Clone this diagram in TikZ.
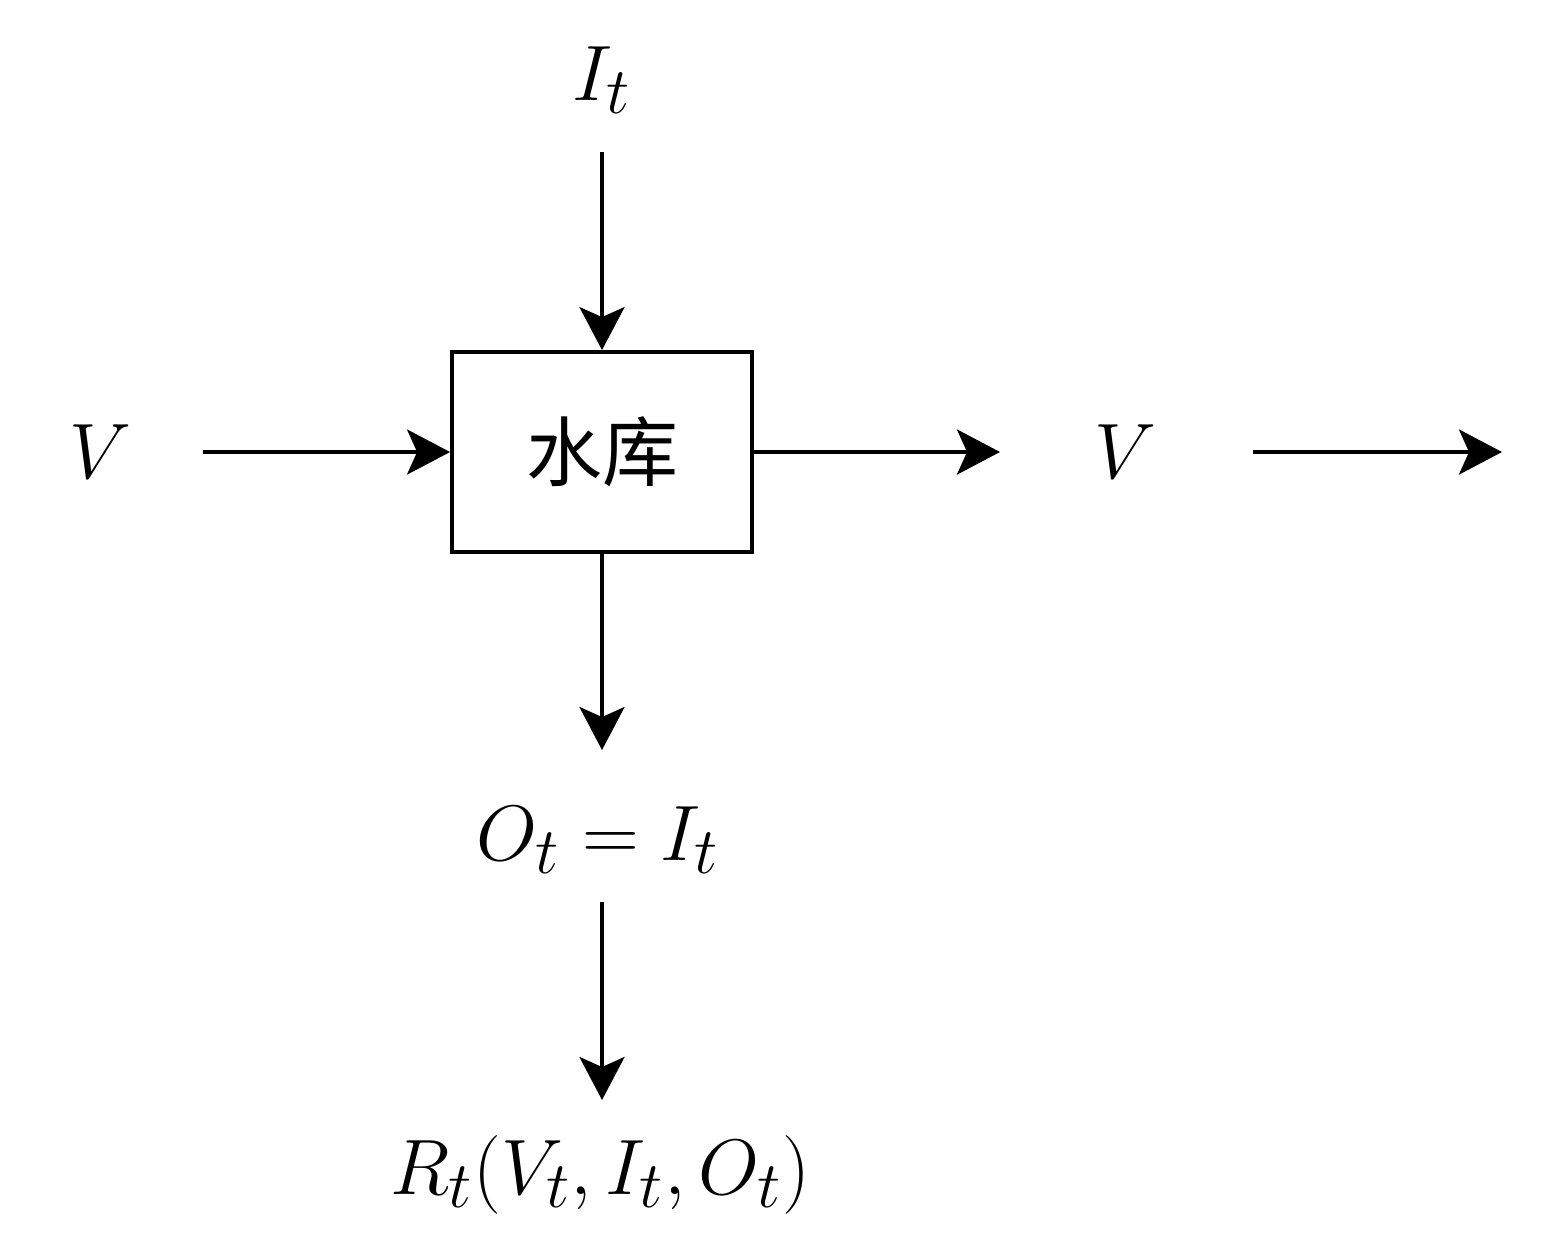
\documentclass[tikz,border=0pt]{standalone}
\usepackage{fontspec}
\newfontfamily\cjk{Noto Sans CJK SC}
\usetikzlibrary{arrows.meta}
\tikzset{
  flow/.style={line width=1.9pt,-{Stealth[length=21.5pt,width=22.5pt,inset=5pt]}},
  lbl/.style={inner sep=0pt,font=\Huge,scale=1.58},
  boxnode/.style={draw,line width=1.9pt,minimum width=150pt,minimum height=100pt,inner sep=0pt,font=\fontsize{38}{46}\selectfont\cjk}
}
\begin{document}
\begin{tikzpicture}[x=0.5pt,y=-0.5pt]
\useasboundingbox (0,0) rectangle (1545,1250);
\node[boxnode] (box) at (602,452) {水库};
\node[lbl] (It) at (602,80) {$I_t$};
\node[lbl] (Vl) at (100,452) {$V$};
\node[lbl] (Vr) at (1125,452) {$V$};
\node[lbl] (Ot) at (598,840) {$O_t = I_t$};
\node[lbl] (Rt) at (600,1175) {$R_t(V_t,I_t,O_t)$};
\coordinate (itS) at (602,152);
\coordinate (vlS) at (203,452);
\coordinate (vrE) at (1000,452);
\coordinate (vrS) at (1253,452);
\coordinate (endR) at (1502,452);
\coordinate (otE) at (602,750);
\coordinate (otS) at (602,902);
\coordinate (rtE) at (602,1100);
\draw[flow] (itS) -- (box.north);
\draw[flow] (vlS) -- (box.west);
\draw[flow] (box.east) -- (vrE);
\draw[flow] (vrS) -- (endR);
\draw[flow] (box.south) -- (otE);
\draw[flow] (otS) -- (rtE);
\end{tikzpicture}
\end{document}
